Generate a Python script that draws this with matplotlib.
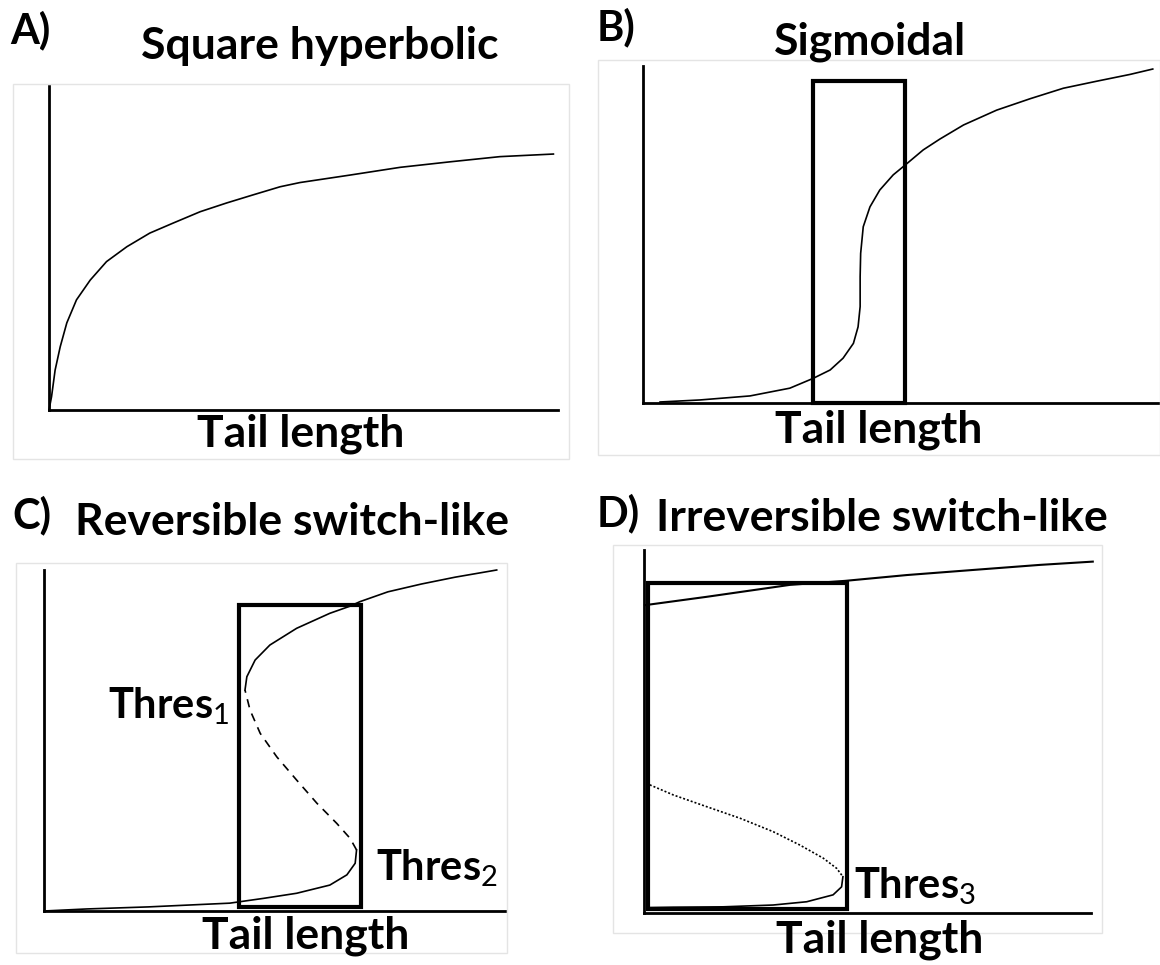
import matplotlib
matplotlib.use('Agg')
import matplotlib.pyplot as plt
from matplotlib.patches import Rectangle

plt.rcParams['font.family'] = ['Lato', 'DejaVu Sans']
plt.rcParams['mathtext.fontset'] = 'custom'
plt.rcParams['mathtext.rm'] = 'Lato'
plt.rcParams['mathtext.it'] = 'Lato'
plt.rcParams['mathtext.bf'] = 'Lato:bold'
plt.rcParams['lines.solid_joinstyle'] = 'round'
plt.rcParams['lines.dash_joinstyle'] = 'round'

W, H = 1160, 965

# ---------------- data (tail length vs response, arbitrary units 0-10) ----------------
# A) square hyperbolic
a_x = [0, 0.05, 0.12, 0.22, 0.35, 0.54, 0.81, 1.13, 1.53, 1.98, 2.44, 2.97, 3.49, 4.01, 4.54,
       4.93, 5.91, 6.90, 7.88, 8.86, 9.91]
a_y = [0, 0.41, 1.23, 1.95, 2.69, 3.40, 4.01, 4.58, 5.04, 5.46, 5.77, 6.12, 6.39, 6.64, 6.89,
       7.02, 7.25, 7.49, 7.66, 7.82, 7.90]

# B) sigmoidal
b_x = [0.33, 1.10, 2.07, 2.84, 3.29, 3.62, 3.87, 4.07, 4.16, 4.20, 4.20, 4.21, 4.26, 4.39, 4.58,
       4.84, 5.07, 5.42, 5.74, 6.20, 6.84, 7.49, 8.13, 8.78, 9.42, 9.86]
b_y = [0.03, 0.09, 0.21, 0.44, 0.73, 0.98, 1.33, 1.77, 2.26, 2.86, 3.75, 4.44, 5.23, 5.82, 6.32,
       6.77, 7.06, 7.51, 7.83, 8.25, 8.69, 9.03, 9.34, 9.55, 9.75, 9.91]
b_box = [3.29, 5.07, 0.0, 9.55]

# C) reversible switch-like
c_low_x = [0, 0.93, 2.26, 4.03, 4.76, 5.48, 6.20, 6.57, 6.75, 6.78]
c_low_y = [0, 0.06, 0.12, 0.23, 0.37, 0.52, 0.76, 1.06, 1.40, 1.79]
c_mid_x = [6.78, 6.64, 6.35, 5.92, 5.48, 5.05, 4.69, 4.47, 4.36]
c_mid_y = [1.79, 2.13, 2.57, 3.16, 3.84, 4.52, 5.21, 5.89, 6.48]
c_up_x = [4.36, 4.40, 4.58, 4.90, 5.48, 6.20, 6.64, 6.85, 7.46, 8.19, 8.92, 9.82]
c_up_y = [6.48, 6.87, 7.36, 7.80, 8.29, 8.73, 8.94, 9.07, 9.36, 9.59, 9.79, 10.0]
c_box = [4.24, 6.88, 0.13, 8.97]

# D) irreversible switch-like
d_up_x = [0.02, 1.40, 3.27, 4.50, 5.88, 7.36, 8.86, 10.04]
d_up_y = [8.48, 8.71, 9.04, 9.15, 9.31, 9.45, 9.59, 9.68]
d_mid_x = [0.13, 0.66, 1.40, 2.15, 2.89, 3.49, 4.01, 4.31, 4.45]
d_mid_y = [3.53, 3.25, 2.93, 2.61, 2.24, 1.87, 1.51, 1.23, 1.00]
d_low_x = [4.45, 4.42, 4.23, 3.64, 2.89, 1.77, 0.66, 0.13]
d_low_y = [1.00, 0.72, 0.50, 0.31, 0.22, 0.17, 0.16, 0.15]
d_box = [0.09, 4.54, 0.11, 9.09]

titles = ['Square hyperbolic', 'Sigmoidal', 'Reversible switch-like', 'Irreversible switch-like']
letters = ['A)', 'B)', 'C)', 'D)']
xlabel = 'Tail length'

# ---------------- layout (pixels) ----------------
fig = plt.figure(figsize=(W / 100, H / 100), dpi=100)


def px_axes(l, t, r, b):
    ax = fig.add_axes([l / W, 1 - b / H, (r - l) / W, (b - t) / H])
    ax.set_xlim(0, 10)
    ax.set_ylim(0, 10)
    ax.set_xticks([])
    ax.set_yticks([])
    for s in ['top', 'right']:
        ax.spines[s].set_visible(False)
    for s in ['left', 'bottom']:
        ax.spines[s].set_linewidth(2)
    ax.patch.set_alpha(0)
    return ax


def frame(l, t, r, b):
    fig.patches.append(Rectangle((l / W, 1 - b / H), (r - l) / W, (b - t) / H,
                                 transform=fig.transFigure, fill=False,
                                 ec='#e4e4e4', lw=1))


def ftext(x, y, s, size, ha='center'):
    fig.text(x / W, 1 - y / H, s, fontsize=size, fontweight='bold',
             ha=ha, va='center')


def box(ax, b):
    x0, x1, y0, y1 = b
    ax.add_patch(Rectangle((x0, y0), x1 - x0, y1 - y0, fill=False,
                           ec='black', lw=3, clip_on=False, joinstyle='miter'))


frame(13, 84, 569, 459)
frame(598, 60, 1160, 455)
frame(16, 563, 507, 953)
frame(613, 545, 1102, 933)

axA = px_axes(49, 86, 558, 410)
axB = px_axes(643, 66, 1160, 403)
axC = px_axes(44, 570, 505, 911)
axD = px_axes(644, 550, 1091, 913)

lw = 1.2
axA.plot(a_x, a_y, color='black', lw=lw, clip_on=False)

axB.plot(b_x, b_y, color='black', lw=lw, clip_on=False)
box(axB, b_box)

axC.plot(c_low_x, c_low_y, color='black', lw=lw, clip_on=False)
axC.plot(c_mid_x, c_mid_y, color='black', lw=lw, ls=(0, (5, 4)), clip_on=False)
axC.plot(c_up_x, c_up_y, color='black', lw=lw, clip_on=False)
box(axC, c_box)
axC.text(4.03, 5.66, 'Thres$_{1}$', fontsize=30, fontweight='bold', ha='right', va='baseline')
axC.text(7.20, 0.91, 'Thres$_{2}$', fontsize=30, fontweight='bold', ha='left', va='baseline')

axD.plot(d_up_x, d_up_y, color='black', lw=lw + 0.3, clip_on=False)
axD.plot(d_mid_x, d_mid_y, color='black', lw=lw, ls=(0, (1.2, 1.2)), clip_on=False)
axD.plot(d_low_x, d_low_y, color='black', lw=lw, clip_on=False)
box(axD, d_box)
axD.text(4.70, 0.41, 'Thres$_{3}$', fontsize=30, fontweight='bold', ha='left', va='baseline')

# titles, panel letters and axis labels
ftext(10, 30, letters[0], 30, 'left')
ftext(320, 46, titles[0], 32)
ftext(597, 27, letters[1], 30, 'left')
ftext(870, 42, titles[1], 32)
ftext(12, 515, letters[2], 30, 'left')
ftext(292, 522, titles[2], 32)
ftext(597, 513, letters[3], 30, 'left')
ftext(882, 518, titles[3], 32)

ftext(301, 434, xlabel, 32)
ftext(879, 430, xlabel, 32)
ftext(306, 936, xlabel, 32)
ftext(880, 940, xlabel, 32)

fig.savefig('out.png', dpi=100, facecolor='white')
